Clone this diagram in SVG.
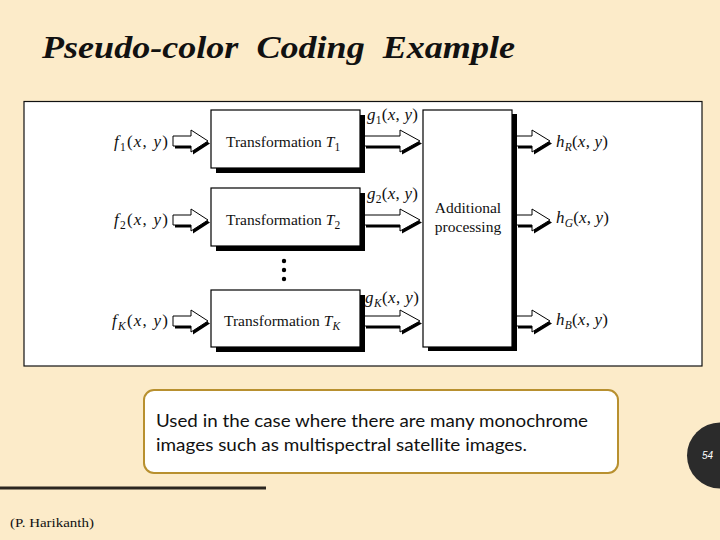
<svg xmlns="http://www.w3.org/2000/svg" width="720" height="540" viewBox="0 0 720 540">
<style>
.bg{fill:#fcebc9}
.panel{fill:#fff;stroke:#111;stroke-width:1.2}
.sh{fill:#000}
.bx{fill:#fff;stroke:#000;stroke-width:1.2}
.ar{fill:#fff;stroke:#000;stroke-width:1}
.t{font-family:"Liberation Serif","Times New Roman",serif;font-size:15.5px;fill:#111}
.m{font-family:"Liberation Serif","Times New Roman",serif;font-size:17px;fill:#111}
.i{font-style:italic}
.sub{font-size:11.5px}
.cap{font-family:"Lato","Noto Sans",sans-serif;font-size:17px;fill:#111}
</style>
<rect class="bg" x="0" y="0" width="720" height="540"/>
<text x="42" y="58" font-family="Liberation Serif,serif" font-size="32" font-weight="bold" font-style="italic" fill="#111" textLength="473" lengthAdjust="spacingAndGlyphs" xml:space="preserve">Pseudo-color  Coding  Example</text>
<rect class="panel" x="24" y="101.5" width="678" height="264.5"/>

<g id="connectors">
  <g id="in1"><polygon class="sh" transform="translate(2,2.5)" points="173,136 191,136 191,130 208,141 191,152 191,146 173,146"/><polygon class="ar" points="173,136 191,136 191,130 208,141 191,152 191,146 173,146"/></g>
  <g id="in2"><polygon class="sh" transform="translate(2,2.5)" points="173,215 191,215 191,209 208,220 191,231 191,225 173,225"/><polygon class="ar" points="173,215 191,215 191,209 208,220 191,231 191,225 173,225"/></g>
  <g id="inK"><polygon class="sh" transform="translate(2,2.5)" points="173,316 191,316 191,310 208,321 191,332 191,326 173,326"/><polygon class="ar" points="173,316 191,316 191,310 208,321 191,332 191,326 173,326"/></g>
  <g id="g1a"><polygon class="sh" transform="translate(2,2.5)" points="364,136 400,136 400,130 420,141 400,152 400,146 364,146"/><polygon class="ar" points="364,136 400,136 400,130 420,141 400,152 400,146 364,146"/></g>
  <g id="g2a"><polygon class="sh" transform="translate(2,2.5)" points="364,215 400,215 400,209 420,220 400,231 400,225 364,225"/><polygon class="ar" points="364,215 400,215 400,209 420,220 400,231 400,225 364,225"/></g>
  <g id="gKa"><polygon class="sh" transform="translate(2,2.5)" points="364,316 400,316 400,310 420,321 400,332 400,326 364,326"/><polygon class="ar" points="364,316 400,316 400,310 420,321 400,332 400,326 364,326"/></g>
  <g id="hRa"><polygon class="sh" transform="translate(2,2.5)" points="516,136 532,136 532,130 550,141 532,152 532,146 516,146"/><polygon class="ar" points="516,136 532,136 532,130 550,141 532,152 532,146 516,146"/></g>
  <g id="hGa"><polygon class="sh" transform="translate(2,2.5)" points="516,215 532,215 532,209 550,220 532,231 532,225 516,225"/><polygon class="ar" points="516,215 532,215 532,209 550,220 532,231 532,225 516,225"/></g>
  <g id="hBa"><polygon class="sh" transform="translate(2,2.5)" points="516,316 532,316 532,310 550,321 532,332 532,326 516,326"/><polygon class="ar" points="516,316 532,316 532,310 550,321 532,332 532,326 516,326"/></g>
</g>

<g id="T1">
  <rect class="sh" x="216" y="115" width="149" height="58"/>
  <rect class="bx" x="211" y="110" width="149" height="58"/>
  <text class="t" x="226" y="147">Transformation <tspan class="i">T</tspan><tspan class="sub" dy="4">1</tspan></text>
</g>
<g id="T2">
  <rect class="sh" x="216" y="193" width="149" height="58"/>
  <rect class="bx" x="211" y="188" width="149" height="58"/>
  <text class="t" x="226" y="225">Transformation <tspan class="i">T</tspan><tspan class="sub" dy="4">2</tspan></text>
</g>
<g id="dots">
  <circle cx="284" cy="261" r="2.2" fill="#000"/>
  <circle cx="284" cy="270" r="2.2" fill="#000"/>
  <circle cx="284" cy="279" r="2.2" fill="#000"/>
</g>
<g id="TK">
  <rect class="sh" x="216" y="295" width="149" height="57"/>
  <rect class="bx" x="211" y="290" width="149" height="57"/>
  <text class="t" x="224" y="326">Transformation <tspan class="i">T</tspan><tspan class="sub i" dy="4">K</tspan></text>
</g>
<g id="proc">
  <rect class="sh" x="428" y="114" width="89" height="237"/>
  <rect class="bx" x="423" y="110" width="89" height="237"/>
  <text class="t" x="468" y="213" text-anchor="middle">Additional</text>
  <text class="t" x="468" y="232" text-anchor="middle">processing</text>
</g>

<g id="labels">
  <text class="m" x="114" y="147" textLength="54"><tspan class="i">f</tspan><tspan class="sub" dy="4">1</tspan><tspan dy="-4">(</tspan><tspan class="i">x</tspan>, <tspan class="i">y</tspan>)</text>
  <text class="m" x="114" y="225" textLength="54"><tspan class="i">f</tspan><tspan class="sub" dy="4">2</tspan><tspan dy="-4">(</tspan><tspan class="i">x</tspan>, <tspan class="i">y</tspan>)</text>
  <text class="m" x="112" y="326" textLength="56"><tspan class="i">f</tspan><tspan class="sub i" dy="4">K</tspan><tspan dy="-4">(</tspan><tspan class="i">x</tspan>, <tspan class="i">y</tspan>)</text>
  <text class="m" x="367" y="120" textLength="51"><tspan class="i">g</tspan><tspan class="sub" dy="4">1</tspan><tspan dy="-4">(</tspan><tspan class="i">x</tspan>, <tspan class="i">y</tspan>)</text>
  <text class="m" x="367" y="199" textLength="51"><tspan class="i">g</tspan><tspan class="sub" dy="4">2</tspan><tspan dy="-4">(</tspan><tspan class="i">x</tspan>, <tspan class="i">y</tspan>)</text>
  <text class="m" x="365" y="303" textLength="54"><tspan class="i">g</tspan><tspan class="sub i" dy="4">K</tspan><tspan dy="-4">(</tspan><tspan class="i">x</tspan>, <tspan class="i">y</tspan>)</text>
  <text class="m" x="556" y="147" textLength="52"><tspan class="i">h</tspan><tspan class="sub i" dy="4">R</tspan><tspan dy="-4">(</tspan><tspan class="i">x</tspan>, <tspan class="i">y</tspan>)</text>
  <text class="m" x="556" y="223" textLength="53"><tspan class="i">h</tspan><tspan class="sub i" dy="4">G</tspan><tspan dy="-4">(</tspan><tspan class="i">x</tspan>, <tspan class="i">y</tspan>)</text>
  <text class="m" x="556" y="325" textLength="52"><tspan class="i">h</tspan><tspan class="sub i" dy="4">B</tspan><tspan dy="-4">(</tspan><tspan class="i">x</tspan>, <tspan class="i">y</tspan>)</text>
</g>

<g id="caption">
  <rect x="144" y="390" width="474" height="83" rx="10" ry="10" fill="#fff" stroke="#b8902f" stroke-width="2"/>
  <text class="cap" x="156" y="427" textLength="432" lengthAdjust="spacingAndGlyphs">Used in the case where there are many monochrome</text>
  <text class="cap" x="156" y="451" textLength="371" lengthAdjust="spacingAndGlyphs">images such as multispectral satellite images.</text>
</g>
<rect x="0" y="486.5" width="266" height="3" fill="#2b2620"/>
<text x="10" y="527" font-family="Liberation Serif,serif" font-size="13" fill="#111" textLength="84" lengthAdjust="spacingAndGlyphs">(P. Harikanth)</text>
<g id="page">
  <circle cx="720" cy="455.5" r="33" fill="#2b2b2b"/>
  <text x="707.5" y="459" font-family="Liberation Sans,sans-serif" font-size="10" font-style="italic" fill="#fff" text-anchor="middle">54</text>
</g>
</svg>
